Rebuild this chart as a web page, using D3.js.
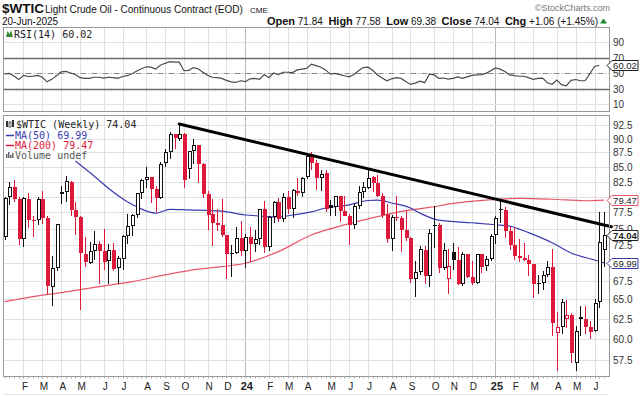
<!DOCTYPE html>
<html>
<head>
<meta charset="utf-8">
<script src="https://cdn.jsdelivr.net/npm/d3@7"></script>
<style>
  body { margin: 0; background: #fff; }
  svg { display: block; font-family: "Liberation Sans", Arial, sans-serif; }
  .mono { font-family: "DejaVu Sans Mono", monospace; }
</style>
</head>
<body>
<div id="chart"></div>
<script>
// weekly bars, first week ends 2023-01-13, last week ends 2025-06-20
const firstWeek = "2023-01-13";
const lastWeek = "2025-06-20";

const opens = [73.8, 79.9, 81.6, 79.7, 73.4, 79.7, 76.3, 76.3, 79.7, 76.7, 66.7, 69.3, 80.4, 80.7, 82.5, 77.9, 76.8, 71.3, 70.0, 71.7,
  72.7, 71.7, 70.2, 71.8, 69.2, 70.6, 73.9, 75.4, 77.1, 80.6, 82.8, 83.2, 81.3, 79.8, 85.6, 87.5, 90.8, 90.0, 90.8, 84.6,
  87.7, 88.8, 85.5, 80.5, 77.2, 75.9, 75.5, 74.1, 71.2, 71.4, 73.6, 71.7, 73.8, 72.7, 73.4, 78.0, 72.3, 76.8, 79.2, 76.5,
  80.0, 78.0, 81.0, 80.6, 83.2, 86.9, 85.7, 83.1, 83.9, 78.6, 78.3, 80.1, 77.7, 77.0, 75.5, 78.5, 80.7, 81.5, 83.2, 82.2,
  80.1, 77.2, 73.5, 76.8, 76.7, 74.8, 73.6, 67.7, 68.7, 71.9, 68.2, 75.4, 75.6, 69.2, 67.8, 71.5, 70.4, 67.0, 71.2, 68.0,
  67.2, 71.3, 69.5, 70.6, 74.0, 78.1, 77.9, 74.7, 72.5, 71.0, 70.7, 70.4, 69.8, 67.0, 67.2, 68.3, 69.4, 60.7, 61.5, 62.5,
  63.0, 57.1, 62.7, 62.5, 61.5, 61.0, 64.6, 71.84];
const highs = [80.0, 82.5, 82.7, 79.9, 80.0, 80.6, 76.9, 80.0, 80.9, 77.0, 71.0, 75.7, 81.8, 83.5, 82.6, 79.2, 76.9, 73.8, 73.0, 74.7,
  73.2, 74.9, 72.7, 72.8, 71.0, 74.0, 77.3, 77.3, 80.6, 83.0, 84.9, 83.2, 81.8, 85.9, 88.1, 91.2, 90.8, 92.7, 91.0, 87.8,
  90.0, 88.9, 85.7, 81.0, 79.7, 78.0, 79.7, 74.1, 72.6, 75.3, 76.2, 74.2, 75.3, 74.8, 78.0, 79.3, 77.0, 79.3, 79.8, 80.6,
  80.9, 81.3, 83.1, 83.2, 87.0, 87.6, 86.1, 84.5, 84.4, 79.5, 80.1, 80.1, 80.1, 77.2, 79.0, 81.7, 82.4, 84.4, 83.4, 83.6,
  80.6, 78.8, 77.1, 80.2, 77.0, 77.7, 73.8, 70.2, 72.4, 72.4, 74.9, 78.5, 75.9, 72.8, 72.0, 72.9, 72.3, 71.6, 71.3, 70.2,
  71.3, 71.3, 71.0, 74.2, 77.0, 79.6, 78.3, 75.2, 75.2, 73.5, 72.9, 71.1, 69.8, 68.3, 68.8, 70.2, 72.0, 63.3, 65.0, 64.9,
  63.2, 61.6, 64.2, 64.2, 62.2, 65.0, 77.6, 77.58];
const lows = [73.3, 78.7, 79.1, 72.5, 72.3, 75.1, 73.8, 75.6, 75.7, 65.7, 64.1, 68.9, 78.9, 79.2, 77.0, 74.0, 63.6, 69.4, 69.8, 70.4,
  67.0, 69.0, 67.0, 68.8, 67.1, 69.0, 72.7, 73.9, 76.6, 79.6, 81.5, 79.0, 77.6, 79.6, 85.0, 86.3, 88.1, 89.6, 81.5, 83.0,
  85.5, 82.3, 79.8, 74.8, 72.4, 74.6, 73.8, 67.7, 68.0, 71.3, 70.9, 69.3, 70.1, 71.5, 72.5, 71.4, 71.7, 75.8, 76.0, 76.0,
  77.2, 76.6, 80.1, 80.0, 82.9, 84.5, 81.1, 81.0, 77.6, 76.9, 77.0, 76.0, 76.9, 72.5, 75.0, 78.0, 79.8, 81.3, 80.7, 79.9,
  76.6, 72.9, 71.7, 76.1, 71.5, 73.2, 67.2, 65.3, 68.3, 67.1, 66.7, 72.1, 68.6, 69.0, 65.7, 69.0, 66.9, 66.8, 67.9, 66.9,
  67.1, 68.5, 68.8, 70.2, 72.7, 75.8, 73.6, 71.9, 70.4, 70.1, 70.2, 68.2, 65.2, 65.7, 66.2, 68.0, 60.4, 56.2, 60.6, 61.3,
  57.2, 56.2, 60.3, 60.6, 60.0, 60.8, 63.9, 69.38];
const closes = [79.86, 81.64, 79.68, 73.39, 79.72, 76.34, 76.32, 79.68, 76.68, 66.74, 69.26, 75.67, 80.70, 82.52, 77.87, 76.78, 71.34, 70.04, 71.69, 72.67,
  71.74, 70.17, 71.78, 69.16, 70.64, 73.86, 75.42, 77.07, 80.58, 82.82, 83.19, 81.25, 79.83, 85.55, 87.51, 90.77, 90.03, 90.79, 82.79, 87.69,
  88.75, 85.54, 80.51, 77.17, 75.89, 75.54, 74.07, 71.23, 71.43, 73.56, 71.65, 73.81, 72.68, 73.41, 78.01, 72.28, 76.84, 79.19, 76.49, 79.97,
  78.01, 81.04, 80.63, 83.17, 86.91, 85.66, 83.14, 83.85, 78.11, 78.26, 80.06, 77.72, 76.99, 75.53, 78.45, 80.73, 81.54, 83.16, 82.21, 80.13,
  77.16, 73.52, 76.84, 76.65, 74.83, 73.55, 67.67, 68.65, 71.92, 68.18, 74.38, 75.56, 69.22, 71.78, 69.49, 70.38, 67.02, 71.24, 68.00, 67.20,
  71.29, 69.46, 70.60, 73.96, 76.57, 77.88, 74.66, 72.53, 71.00, 70.74, 70.40, 69.76, 67.04, 67.18, 68.28, 69.36, 61.99, 61.50, 64.68, 63.02,
  58.29, 61.02, 62.49, 61.53, 60.79, 64.58, 72.98, 74.04];
const closeBeforeFirst = 73.77;

const rsiValues = [48.7, 49.5, 46, 41.5, 47, 45.5, 46, 47, 44.5, 38.6, 41.8, 46.5, 51.5, 52, 50, 48, 44, 43, 43, 44.5,
  44.5, 43.5, 44.5, 44, 43, 45.5, 46.5, 49, 52.5, 55.5, 58, 57.5, 55, 60, 62.5, 64.6, 64, 64, 53, 53.5,
  57, 55.5, 51, 47, 44.5, 44, 43, 40.5, 38.5, 37.8, 40, 38.8, 42.5, 43, 41.8, 48, 44, 50, 48, 51,
  51, 50.5, 54, 55, 56, 61.5, 59.5, 57.5, 54, 48.5, 49.5, 48, 46.5, 45, 48, 53, 57, 57.5, 53.5, 47.5,
  43.5, 40, 42.5, 44, 43, 39, 35.3, 37, 39.5, 37.5, 48.5, 47.5, 43, 43.5, 42, 43, 45, 43, 45, 47,
  47.5, 48, 49.5, 53, 56.5, 55, 52, 47.5, 46.5, 45.8, 45.8, 44, 41.8, 43, 43.5, 37.4, 35.5, 41, 35, 33.5,
  40.5, 41.6, 40, 40, 49, 58.5, 60.02];

// moving averages at selected weeks (week index)
const ma50Weeks = [15, 19, 22, 26, 28, 32, 35, 39, 46, 51, 54, 58, 61, 65, 68, 73, 77, 79, 82, 86, 88, 92, 99, 104, 107, 111, 116, 120, 125, 127];
const ma50Values = [86.0, 83.4, 81.4, 79.2, 78.4, 77.4, 78.0, 77.9, 77.7, 77.1, 76.95, 76.8, 77.1, 77.6, 78.2, 78.7, 79.4, 79.45, 79.0, 78.2,
  77.4, 76.3, 75.9, 75.6, 75.4, 74.4, 72.9, 71.4, 70.4, 69.99];
const ma200Weeks = [0, 6, 13, 20, 27, 34, 41, 46, 51, 58, 65, 72, 79, 86, 90, 95, 102, 109, 116, 123, 127];
const ma200Values = [64.7, 65.36, 66.0, 66.7, 67.37, 68.3, 69.1, 69.45, 69.93, 71.6, 74.05, 75.57, 76.85, 77.9, 78.3, 78.94, 79.47, 79.74, 79.6, 79.36, 79.47];

// hand-drawn resistance line
const trendDates = ["2023-09-29", "2025-07-01"];
const trendPrices = [92.7, 75.3];

const monthTickDates = ["2023-02-10", "2023-03-10", "2023-04-07", "2023-05-05", "2023-06-09", "2023-07-07", "2023-08-11", "2023-09-08",
  "2023-10-06", "2023-11-10", "2023-12-08", "2024-01-05", "2024-02-09", "2024-03-08", "2024-04-05", "2024-05-10", "2024-06-07",
  "2024-07-05", "2024-08-09", "2024-09-06", "2024-10-11", "2024-11-08", "2024-12-06", "2025-01-10", "2025-02-07", "2025-03-07",
  "2025-04-11", "2025-05-09", "2025-06-06"];
const monthTickLabels = ["F", "M", "A", "M", "J", "J", "A", "S", "O", "N", "D", "24", "F", "M", "A", "M", "J", "J", "A", "S", "O", "N", "D", "25",
  "F", "M", "A", "M", "J"];

// 80.0 and 70.0 sit under the MA tags, so they are not labelled
const priceTicks = [57.5, 60, 62.5, 65, 67.5, 70, 72.5, 75, 77.5, 80, 82.5, 85, 87.5, 90, 92.5];
const hiddenPriceLabels = [70, 80];
const rsiTicks = [90, 70, 50, 30, 10];

const width = 640, height = 396;
const left = 3.5, right = 609.5;
const rsiTop = 27.5, rsiBottom = 111.5;
const mainTop = 115.5, mainBottom = 376.5;

const red = "#dd1a3c", blue = "#3b3bb0", pink = "#e8566a";

const parse = d3.utcParse("%Y-%m-%d");
const weeks = d3.utcFriday.range(parse(firstWeek), d3.utcDay.offset(parse(lastWeek), 1));

const x = d3.scaleUtc()
  .domain([weeks[0], weeks[weeks.length - 1]])
  .range([4.6, 604]);
const y = d3.scaleLog()
  .domain([57.5, 92.5])
  .range([360, 125]);
const yr = d3.scaleLinear()
  .domain([10, 90])
  .range([104, 42]);

const svg = d3.select("#chart").append("svg")
  .attr("width", width)
  .attr("height", height);

const defs = svg.append("defs");
defs.append("clipPath").attr("id", "clipMain")
  .append("rect").attr("x", left).attr("y", mainTop).attr("width", right - left).attr("height", mainBottom - mainTop);
defs.append("clipPath").attr("id", "clipRsi")
  .append("rect").attr("x", left).attr("y", rsiTop).attr("width", right - left).attr("height", rsiBottom - rsiTop);

// ---------- header ----------
const header = svg.append("g");
header.append("text").attr("x", 2).attr("y", 13)
  .attr("font-size", 13.5).attr("font-weight", "bold").attr("fill", "#111").text("$WTIC");
header.append("text").attr("x", 45).attr("y", 13)
  .attr("font-size", 10).attr("fill", "#111").text("Light Crude Oil - Continuous Contract (EOD)");
header.append("text").attr("x", 250).attr("y", 13)
  .attr("font-size", 8).attr("fill", "#111").text("CME");
header.append("text").attr("x", 2).attr("y", 24.5)
  .attr("font-size", 10).attr("fill", "#111").text("20-Jun-2025");
header.append("text").attr("x", 610).attr("y", 11).attr("text-anchor", "end")
  .attr("font-size", 9).attr("fill", "#777").text("\u00A9StockCharts.com");

const stats = header.append("text").attr("x", 598).attr("y", 24.5).attr("text-anchor", "end")
  .attr("font-size", 10).attr("fill", "#111");
[["Open", " 71.84  "], ["High", " 77.58  "], ["Low", " 69.38  "], ["Close", " 74.04  "], ["Chg", " +1.06 (+1.45%)"]].forEach(function(p) {
  stats.append("tspan").attr("font-weight", "bold").attr("font-size", 11).text(p[0]);
  stats.append("tspan").attr("xml:space", "preserve").text(p[1]);
});
header.append("path").attr("d", "M600,23.5 L603.5,18.5 L607,23.5 Z").attr("fill", "#1d8a2a");

// ---------- panels background / grid ----------
function vGrid(g, top, bottom) {
  monthTickDates.forEach(function(d, i) {
    const xx = Math.round(x(parse(d))) + 0.5;
    const isYear = monthTickLabels[i].length === 2;
    g.append("line").attr("x1", xx).attr("x2", xx).attr("y1", top).attr("y2", bottom)
      .attr("stroke", isYear ? "#b8b8b8" : "#e0e0e0").attr("stroke-width", 1);
  });
}

// RSI panel
const rsiG = svg.append("g");
vGrid(rsiG, rsiTop, rsiBottom);
rsiTicks.forEach(function(t) {
  const yy = Math.round(yr(t)) + 0.5;
  let stroke = "#e0e0e0", sw = 1, dash = null;
  if (t === 70 || t === 30) { stroke = "#6a6a6a"; sw = 1.3; }
  if (t === 50) { stroke = "#8a8a8a"; dash = "6,2,1,2"; }
  rsiG.append("line").attr("x1", left).attr("x2", right).attr("y1", yy).attr("y2", yy)
    .attr("stroke", stroke).attr("stroke-width", sw).attr("stroke-dasharray", dash);
  rsiG.append("text").attr("x", 613).attr("y", yy + 3.5)
    .attr("font-size", 10).attr("fill", "#333").text(t);
});

const rsiLine = d3.line()
  .x(function(d, i) { return x(weeks[i]); })
  .y(function(d) { return yr(d); });
rsiG.append("path").datum(rsiValues)
  .attr("clip-path", "url(#clipRsi)")
  .attr("d", rsiLine)
  .attr("fill", "none").attr("stroke", "#4a4a4a").attr("stroke-width", 1.2);

rsiG.append("rect").attr("x", left).attr("y", rsiTop).attr("width", right - left).attr("height", rsiBottom - rsiTop)
  .attr("fill", "none").attr("stroke", "#999");

// RSI legend
rsiG.append("path").attr("d", "M6,37 L7.5,31 L9.5,34 L11,30 L13,37 Z").attr("fill", "#3a8a3a");
rsiG.append("text").attr("class", "mono").attr("x", 14).attr("y", 37.5)
  .attr("font-size", 10).attr("fill", "#222").text("RSI(14) 60.02");

// main panel
const mainG = svg.append("g");
vGrid(mainG, mainTop, mainBottom);
priceTicks.forEach(function(t) {
  const yy = Math.round(y(t)) + 0.5;
  mainG.append("line").attr("x1", left).attr("x2", right).attr("y1", yy).attr("y2", yy)
    .attr("stroke", "#e0e0e0");
  if (hiddenPriceLabels.indexOf(t) < 0) {
    mainG.append("text").attr("x", 613).attr("y", yy + 3.5)
      .attr("font-size", 10).attr("fill", "#333").text(d3.format(".1f")(t));
  }
});

// moving averages
const maLine = d3.line()
  .curve(d3.curveMonotoneX)
  .x(function(d) { return x(weeks[d[0]]); })
  .y(function(d) { return y(d[1]); });
mainG.append("path").datum(d3.zip(ma200Weeks, ma200Values))
  .attr("clip-path", "url(#clipMain)")
  .attr("d", maLine).attr("fill", "none").attr("stroke", pink).attr("stroke-width", 1.2);
mainG.append("path").datum(d3.zip(ma50Weeks, ma50Values))
  .attr("clip-path", "url(#clipMain)")
  .attr("d", maLine).attr("fill", "none").attr("stroke", blue).attr("stroke-width", 1.2);

// candles
const candleG = mainG.append("g").attr("clip-path", "url(#clipMain)").attr("shape-rendering", "crispEdges");
weeks.forEach(function(w, i) {
  const o = opens[i], h = highs[i], l = lows[i], c = closes[i];
  const prev = i === 0 ? closeBeforeFirst : closes[i - 1];
  const col = c >= prev ? "#111" : red;
  const hollow = c > o;
  const cx = Math.round(x(w));
  const top = y(Math.max(o, c)), bot = y(Math.min(o, c));
  const bh = Math.max(1, bot - top);
  candleG.append("rect").attr("x", cx).attr("y", y(h)).attr("width", 1).attr("height", y(l) - y(h)).attr("fill", col);
  candleG.append("rect").attr("x", cx - 1.5).attr("y", top).attr("width", 4).attr("height", bh).attr("fill", col);
  if (hollow && bh > 2) {
    candleG.append("rect").attr("x", cx - 0.5).attr("y", top + 1).attr("width", 2).attr("height", bh - 2).attr("fill", "#fff");
  }
});

// trend line
mainG.append("line")
  .attr("x1", x(parse(trendDates[0]))).attr("y1", y(trendPrices[0]))
  .attr("x2", x(parse(trendDates[1]))).attr("y2", y(trendPrices[1]))
  .attr("stroke", "#000").attr("stroke-width", 3).attr("stroke-linecap", "round");

mainG.append("rect").attr("x", left).attr("y", mainTop).attr("width", right - left).attr("height", mainBottom - mainTop)
  .attr("fill", "none").attr("stroke", "#999");

// main legend
const leg = mainG.append("g");
leg.append("rect").attr("x", 4).attr("y", 117).attr("width", 71).attr("height", 44).attr("fill", "#fff").attr("opacity", 0.85);
leg.append("rect").attr("x", 6).attr("y", 121).attr("width", 2).attr("height", 6).attr("fill", "#333");
leg.append("rect").attr("x", 9).attr("y", 122).attr("width", 2).attr("height", 5).attr("fill", "#fff").attr("stroke", "#333").attr("stroke-width", 0.8);
leg.append("rect").attr("x", 12).attr("y", 120).attr("width", 2).attr("height", 7).attr("fill", "#333");
leg.append("text").attr("class", "mono").attr("x", 16).attr("y", 128).attr("font-size", 10).attr("fill", "#222").text("$WTIC (Weekly) 74.04");
leg.append("line").attr("x1", 6).attr("x2", 14).attr("y1", 135.5).attr("y2", 135.5).attr("stroke", blue).attr("stroke-width", 1.5);
leg.append("text").attr("class", "mono").attr("x", 15).attr("y", 138.5).attr("font-size", 10).attr("fill", blue).text("MA(50) 69.99");
leg.append("line").attr("x1", 6).attr("x2", 14).attr("y1", 145.5).attr("y2", 145.5).attr("stroke", red).attr("stroke-width", 1.5);
leg.append("text").attr("class", "mono").attr("x", 15).attr("y", 148.5).attr("font-size", 10).attr("fill", red).text("MA(200) 79.47");
[[6, 4], [8, 6], [10, 3], [12, 5]].forEach(function(b) {
  leg.append("rect").attr("x", b[0]).attr("y", 158 - b[1]).attr("width", 1.5).attr("height", b[1]).attr("fill", "#666");
});
leg.append("text").attr("class", "mono").attr("x", 15).attr("y", 158.5).attr("font-size", 10).attr("fill", "#555").text("Volume undef");

// price tags on the right axis
function tag(yy, label, stroke, bold) {
  const g = svg.append("g");
  g.append("path")
    .attr("d", "M607," + yy + " L612," + (yy - 5) + " L638," + (yy - 5) + " L638," + (yy + 5) + " L612," + (yy + 5) + " Z")
    .attr("fill", "#fff").attr("stroke", stroke).attr("stroke-width", 1);
  g.append("text").attr("x", 625).attr("y", yy + 3.3).attr("text-anchor", "middle")
    .attr("font-size", 9.5).attr("font-weight", bold ? "bold" : "normal").attr("fill", "#222").text(label);
}
tag(Math.round(y(79.47)) + 0.5, "79.47", pink, false);
tag(Math.round(y(69.99)) + 0.5, "69.99", blue, false);
tag(Math.round(y(74.04)) + 0.5, "74.04", "#222", true);
tag(Math.round(yr(60.02)) + 0.5, "60.02", "#222", false);

// x axis
const axG = svg.append("g");
weeks.forEach(function(w) {
  const xx = Math.round(x(w)) + 0.5;
  axG.append("line").attr("x1", xx).attr("x2", xx).attr("y1", mainBottom).attr("y2", mainBottom + 2)
    .attr("stroke", "#aaa");
});
monthTickDates.forEach(function(d, i) {
  const isYear = monthTickLabels[i].length === 2;
  axG.append("text").attr("x", x(parse(d)) + 1.5).attr("y", 390).attr("text-anchor", "middle")
    .attr("font-size", isYear ? 11 : 10).attr("font-weight", isYear ? "bold" : "normal")
    .attr("fill", "#222").text(monthTickLabels[i]);
});
axG.append("line").attr("x1", left).attr("x2", right).attr("y1", 394.5).attr("y2", 394.5)
  .attr("stroke", "#ccc").attr("stroke-dasharray", "1,1");
</script>
</body>
</html>
